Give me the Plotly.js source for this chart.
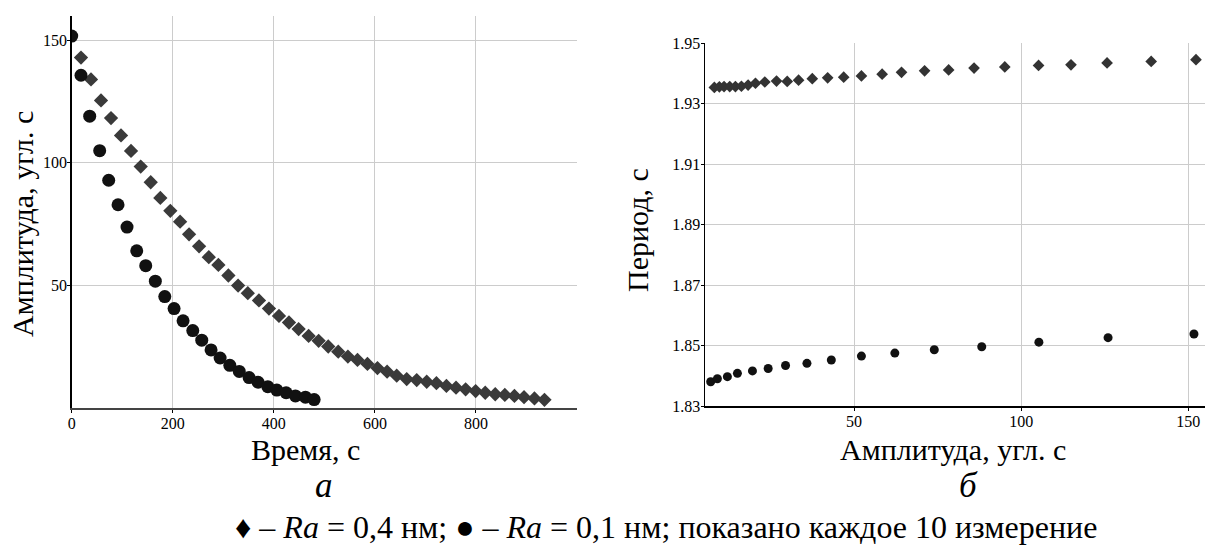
<!DOCTYPE html>
<html>
<head>
<meta charset="utf-8">
<script src="https://cdn.plot.ly/plotly-3.0.1.min.js"></script>
<style>html,body{margin:0;padding:0;background:#fff;}#chart{width:1205px;height:546px;}</style>
</head>
<body>
<div id="chart"></div>
<script>
// (a) Amplitude vs time
const timeDiamond = [18.4, 38.2, 58.0, 77.8, 97.6, 117.4, 136.6, 156.4, 175.4, 195.2, 214.5, 232.3, 252.1, 271.3, 290.3, 310.1, 329.3, 348.5, 370.6, 390.4, 410.2, 430.0, 449.1, 468.9, 488.7, 507.7, 527.5, 546.6, 565.6, 585.3, 605.1, 624.2, 643.2, 663.0, 682.8, 702.6, 721.8, 741.6, 760.6, 779.6, 799.4, 818.4, 838.2, 857.2, 876.2, 895.2, 915.8, 935.6];
const ampDiamond = [143.0, 134.1, 125.5, 118.3, 111.2, 104.9, 98.5, 92.1, 85.7, 80.4, 76.0, 70.8, 65.9, 61.5, 58.3, 54.0, 49.9, 46.8, 43.8, 40.5, 37.5, 34.8, 32.1, 29.3, 27.3, 25.0, 22.9, 20.9, 19.5, 17.9, 16.2, 14.7, 13.1, 11.7, 11.3, 10.6, 10.0, 8.9, 8.2, 7.5, 6.8, 6.1, 5.5, 5.2, 4.8, 4.3, 3.8, 3.2];
const timeCircle = [0, 18.4, 35.6, 55.4, 73.2, 91.7, 109.5, 128.7, 146.5, 165.5, 184.2, 202.6, 220.4, 239.6, 257.4, 275.8, 293.7, 312.9, 331.6, 351.1, 368.9, 388.1, 405.9, 424.4, 442.8, 462.6, 479.8];
const ampCircle = [151.8, 135.8, 119.1, 105.0, 92.9, 82.9, 73.8, 64.1, 58.0, 51.7, 45.4, 40.5, 35.5, 31.5, 27.6, 23.6, 20.3, 17.3, 14.8, 12.3, 10.4, 8.6, 7.2, 6.1, 4.8, 4.3, 3.3];

// (b) Period vs amplitude
const ampBDiamond = [8.2, 9.7, 11.1, 12.8, 14.5, 16.3, 18.3, 20.5, 23.3, 26.8, 30.0, 33.4, 37.5, 42.1, 46.9, 52.2, 58.4, 64.2, 71.1, 78.3, 85.9, 95.1, 105.2, 114.9, 125.7, 138.9, 152.3];
const periodDiamond = [1.9353, 1.9355, 1.9356, 1.9356, 1.9356, 1.9357, 1.9361, 1.9367, 1.9371, 1.9374, 1.9373, 1.9377, 1.9382, 1.9385, 1.9387, 1.9391, 1.9397, 1.9403, 1.9408, 1.9411, 1.9417, 1.9421, 1.9426, 1.9428, 1.9434, 1.9439, 1.9445];
const ampBCircle = [7.1, 9.1, 12.1, 15.1, 19.6, 24.3, 29.5, 35.9, 43.2, 52.2, 62.2, 74.0, 88.2, 105.3, 126.0, 151.7];
const periodCircle = [1.8380, 1.8390, 1.8397, 1.8408, 1.8416, 1.8424, 1.8434, 1.8441, 1.8452, 1.8465, 1.8475, 1.8486, 1.8496, 1.8511, 1.8526, 1.8538];

// Tick labels
const xTicksA = [0, 200, 400, 600, 800];
const yTicksA = [50, 100, 150];
const xTicksB = [50, 100, 150];
const yTicksB = [1.83, 1.85, 1.87, 1.89, 1.91, 1.93, 1.95];
const yTickTextB = ["1.83", "1.85", "1.87", "1.89", "1.91", "1.93", "1.95"];

const W = 1205, H = 546;
const px = x => x / W;
const py = y => 1 - y / H;
const serif = "Liberation Serif";

const traces = [
  {x: timeDiamond, y: ampDiamond, xaxis: 'x', yaxis: 'y', mode: 'markers', type: 'scatter',
   marker: {symbol: 'diamond', size: 11, color: '#3a3a3a'}},
  {x: timeCircle, y: ampCircle, xaxis: 'x', yaxis: 'y', mode: 'markers', type: 'scatter',
   marker: {symbol: 'circle', size: 13, color: '#111'}},
  {x: ampBDiamond, y: periodDiamond, xaxis: 'x2', yaxis: 'y2', mode: 'markers', type: 'scatter',
   marker: {symbol: 'diamond', size: 9, color: '#333'}},
  {x: ampBCircle, y: periodCircle, xaxis: 'x2', yaxis: 'y2', mode: 'markers', type: 'scatter',
   marker: {symbol: 'circle', size: 9, color: '#111'}}
];

const tickFont = {family: serif, size: 16, color: '#000'};
const common = {showgrid: true, gridcolor: '#cccccc', gridwidth: 1, zeroline: false, showline: true,
  ticks: 'outside', ticklen: 3, tickcolor: '#000', tickfont: tickFont, fixedrange: true, ticklabelstandoff: -3};

const layout = {
  width: W, height: H,
  margin: {l: 0, r: 0, t: 0, b: 0},
  paper_bgcolor: '#fff', plot_bgcolor: '#fff',
  font: {family: serif, color: '#000'},
  showlegend: false, hovermode: false,
  xaxis: Object.assign({}, common, {domain: [px(71.7), px(577)], range: [0, 1000], anchor: 'y',
    tickvals: xTicksA, linecolor: '#444', linewidth: 2}),
  yaxis: Object.assign({}, common, {domain: [py(407.7), py(16)], range: [0, 160], anchor: 'x',
    tickvals: yTicksA, linecolor: '#000', linewidth: 1.5}),
  xaxis2: Object.assign({}, common, {domain: [px(705), 1], range: [5.4, 155], anchor: 'y2',
    tickvals: xTicksB, linecolor: '#000', linewidth: 1.5}),
  yaxis2: Object.assign({}, common, {domain: [py(406), py(43)], range: [1.83, 1.95], anchor: 'x2',
    tickvals: yTicksB, ticktext: yTickTextB, linecolor: '#000', linewidth: 1.5}),
  annotations: [
    {text: 'Амплитуда, угл. с', x: px(22), y: py(224), textangle: -90, font: {family: serif, size: 30, color: '#000'}},
    {text: 'Время, с', x: px(305), y: py(449), font: {family: serif, size: 30, color: '#000'}},
    {text: '<i>а</i>', x: px(324), y: py(486), font: {family: serif, size: 35, color: '#000'}},
    {text: 'Период, с', x: px(637), y: py(230), textangle: -90, font: {family: serif, size: 30, color: '#000'}},
    {text: 'Амплитуда, угл. с', x: px(953), y: py(449), font: {family: serif, size: 30, color: '#000'}},
    {text: '<i>б</i>', x: px(968), y: py(486), font: {family: serif, size: 35, color: '#000'}},
    {text: '♦ – <i>Ra</i> = 0,4 нм; ● – <i>Ra</i> = 0,1 нм; показано каждое 10 измерение', x: px(666), y: py(527),
     font: {family: serif, size: 32, color: '#000'}}
  ].map(a => Object.assign({xref: 'paper', yref: 'paper', showarrow: false, xanchor: 'center', yanchor: 'middle'}, a))
};

Plotly.newPlot('chart', traces, layout, {displayModeBar: false, staticPlot: true});
</script>
</body>
</html>
